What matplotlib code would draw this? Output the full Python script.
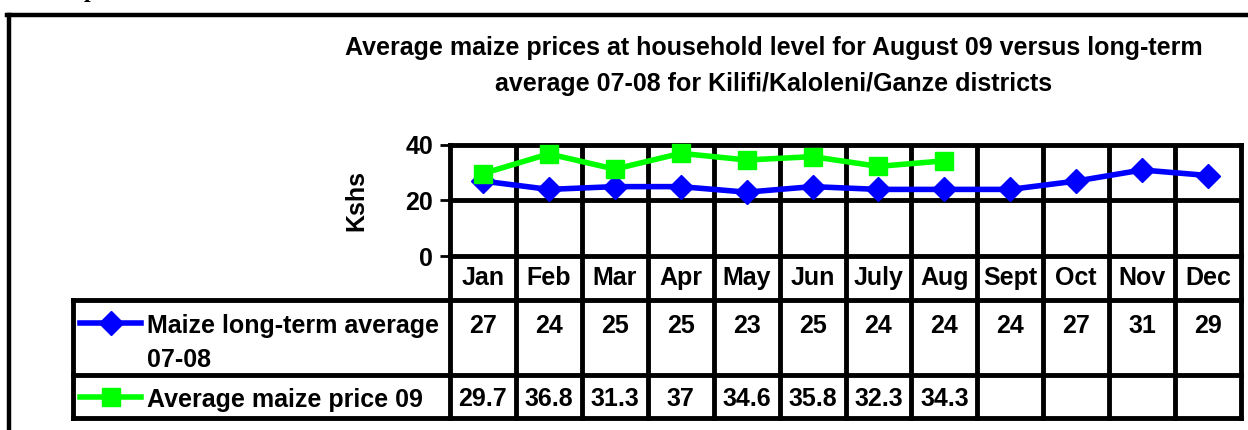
import matplotlib
matplotlib.use("Agg")
import matplotlib.pyplot as plt
from matplotlib.lines import Line2D
import matplotlib.transforms as mtransforms

# ---- data ----
months = ["Jan", "Feb", "Mar", "Apr", "May", "Jun", "July", "Aug", "Sept", "Oct", "Nov", "Dec"]
long_term = [27, 24, 25, 25, 23, 25, 24, 24, 24, 27, 31, 29]
price_09 = [29.7, 36.8, 31.3, 37, 34.6, 35.8, 32.3, 34.3]
long_term_labels = ["27", "24", "25", "25", "23", "25", "24", "24", "24", "27", "31", "29"]
price_09_labels = ["29.7", "36.8", "31.3", "37", "34.6", "35.8", "32.3", "34.3"]
yticks = [0, 20, 40]
series_names = ["Maize long-term average\n07-08", "Average maize price 09"]
title = ("Average maize prices at household level for August 09 versus long-term\n"
         "average 07-08 for Kilifi/Kaloleni/Ganze districts")

W, H = 1248, 430
plt.rcParams["font.family"] = ["Liberation Sans", "DejaVu Sans"]
plt.rcParams["font.weight"] = "bold"
FS = 18

fig = plt.figure(figsize=(W / 100, H / 100), dpi=100)

def fx(px):
    return px / W

def fy(py):
    return 1 - py / H

BLUE = "#0000ff"
GREEN = "#00ff00"
LW = 3.5

# outer frame (only top/left visible)
fig.add_artist(Line2D([fx(9), fx(9)], [fy(15), fy(H + 5)], color="black", lw=3.2))
fig.add_artist(Line2D([fx(7), fx(W + 5)], [fy(15), fy(15)], color="black", lw=3.2))
# cut-off letter from text above
fig.text(fx(84), fy(-3), "p", family="Liberation Serif", fontsize=17,
         fontweight="bold", va="baseline")

# ---- plot area ----
left, right, top, bottom = 450, 1241, 145, 256
ax = fig.add_axes([fx(left), fy(bottom), fx(right - left), (bottom - top) / H])
n = len(months)
x = list(range(n))
ax.set_xlim(-0.5, n - 0.5)
ax.set_ylim(0, 40)
ax.set_yticks(yticks)
ax.set_yticklabels([str(v) for v in yticks], fontsize=FS, fontweight="bold")
ax.tick_params(axis="y", length=7, width=2, pad=5)
ax.set_xticks([])
for s in ax.spines.values():
    s.set_linewidth(LW)
ax.axhline(20, color="black", lw=LW)
for k in range(1, n):
    ax.axvline(k - 0.5, color="black", lw=LW)
ax.set_ylabel("Kshs", fontsize=FS, fontweight="bold", labelpad=27)

ax.plot(x, long_term, color=BLUE, lw=4, marker="D", markersize=12,
        clip_on=False, zorder=5)
ax.plot(x[:len(price_09)], price_09, color=GREEN, lw=4, marker="s",
        markersize=13, clip_on=False, zorder=6)

fig.text(fx(774), fy(36), title, ha="center", va="top", fontsize=FS,
         fontweight="bold", linespacing=1.62)

# ---- data table under the plot ----
ph = bottom - top
def ay(py):
    # pixel row -> axes fraction
    return (bottom - py) / ph

tr = mtransforms.blended_transform_factory(ax.transData, ax.transAxes)
x_leg = -0.5 - (left - 73) / ((right - left) / n)
row_month = (bottom, 300)
row1 = (300, 375)
row2 = (375, 418)

def hline(x0, x1, py):
    ax.add_line(Line2D([x0, x1], [ay(py), ay(py)], transform=tr, color="black",
                       lw=LW, clip_on=False, solid_capstyle="projecting"))

def vline(xv, py0, py1):
    ax.add_line(Line2D([xv, xv], [ay(py0), ay(py1)], transform=tr, color="black",
                       lw=LW, clip_on=False, solid_capstyle="projecting"))

hline(x_leg, n - 0.5, row1[0])
hline(x_leg, n - 0.5, row2[0])
hline(x_leg, n - 0.5, row2[1])
for k in range(n + 1):
    vline(k - 0.5, row_month[0], row2[1])
vline(x_leg, row1[0], row2[1])

for i, m in enumerate(months):
    ax.text(i, ay(278), m, transform=tr, ha="center", va="center",
            fontsize=FS, fontweight="bold")
for i, v in enumerate(long_term_labels):
    ax.text(i, ay(326), v, transform=tr, ha="center", va="center",
            fontsize=FS, fontweight="bold")
for i, v in enumerate(price_09_labels):
    ax.text(i, ay(399), v, transform=tr, ha="center", va="center",
            fontsize=FS, fontweight="bold")

# legend keys in the table
unit = (right - left) / n
kx0 = x_leg + (80 - 73) / unit
kx1 = x_leg + (141 - 73) / unit
kxm = (kx0 + kx1) / 2
ax.add_line(Line2D([kx0, kx1], [ay(323), ay(323)], transform=tr, color=BLUE, lw=4,
                   clip_on=False))
ax.add_line(Line2D([kxm], [ay(323)], transform=tr, color=BLUE, marker="D",
                   markersize=12, clip_on=False))
ax.add_line(Line2D([kx0, kx1], [ay(397), ay(397)], transform=tr, color=GREEN, lw=4,
                   clip_on=False))
ax.add_line(Line2D([kxm], [ay(397)], transform=tr, color=GREEN, marker="s",
                   markersize=13, clip_on=False))
tx = x_leg + (147 - 73) / unit
ax.text(tx, ay(314), series_names[0], transform=tr, ha="left", va="top",
        fontsize=FS, fontweight="bold", linespacing=1.55)
ax.text(tx, ay(400), series_names[1], transform=tr, ha="left", va="center",
        fontsize=FS, fontweight="bold")

fig.savefig("out.png", dpi=100)
